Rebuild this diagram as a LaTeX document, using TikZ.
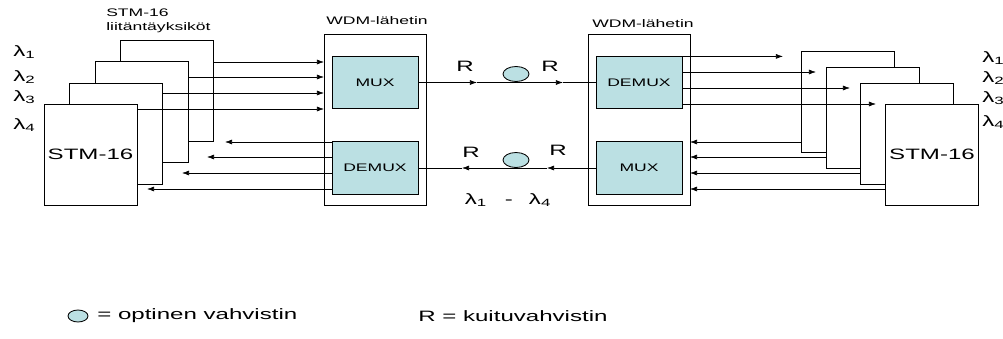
\documentclass[tikz,border=0pt]{standalone}
\usepackage{fontspec}
\setmainfont{Liberation Sans}[FakeStretch=1.6]
\usetikzlibrary{positioning, arrows.meta, shapes.geometric}
\definecolor{ampcyan}{RGB}{187,224,227}
\newcommand{\bigtxt}{\fontsize{10.7}{12.5}\selectfont}
\newcommand{\smalltxt}{\fontsize{7.8}{10}\selectfont}

\begin{document}
\begin{tikzpicture}[
    card/.style={draw, fill=white, line width=0.7pt, minimum width=2.325cm,
                 minimum height=2.525cm, inner sep=0pt, font=\bigtxt},
    wdm/.style={draw, line width=0.7pt, minimum width=2.55cm, minimum height=4.275cm},
    unit/.style={draw, fill=ampcyan, line width=0.7pt, minimum width=2.15cm,
                 minimum height=1.31cm, font=\smalltxt},
    amp/.style={draw, fill=ampcyan, ellipse, line width=0.6pt, minimum width=0.65cm,
                minimum height=0.375cm, inner sep=0pt},
    lam/.style={font=\bigtxt, anchor=west, inner sep=0pt},
    wire/.style={line width=0.45pt},
    >={Latex[length=5pt,width=3.5pt]},
]

\useasboundingbox (0,0) rectangle (25.075,8.45);
\clip (0,0) rectangle (25.075,8.45);

% =================================================================
%  WDM TRANSMITTERS
% =================================================================
\node[wdm]  (WDML)   at (9.375, 5.4625)  {};
\node[wdm]  (WDMR)   at (15.975, 5.4625) {};
\node[font=\smalltxt] (WDMLtxt) at (9.425, 7.925)  {WDM-lähetin};
\node[font=\smalltxt] (WDMRtxt) at (16.075, 7.85)  {WDM-lähetin};

\node[unit] (MUXL)   at (9.375, 6.3875)  {MUX};
\node[unit] (DEMUXL) at (9.375, 4.25)    {DEMUX};
\node[unit] (DEMUXR) at (15.975, 6.3875) {DEMUX};
\node[unit] (MUXR)   at (15.975, 4.25)   {MUX};

% =================================================================
%  STM-16 CARDS (back to front)
% =================================================================
\node[card] (L1) at (4.1625, 6.1875) {};
\node[card] (L2) at (3.5375, 5.65)   {};
\node[card] (L3) at (2.9, 5.1125)    {};
\node[card] (L4) at (2.2625, 4.5875) {STM-16};

\node[card] (R1) at (21.1875, 5.9125) {};
\node[card] (R2) at (21.8125, 5.5125) {};
\node[card] (R3) at (22.6625, 5.1125) {};
\node[card] (R4) at (23.3, 4.5875)    {STM-16};

\node[font=\smalltxt, anchor=west, align=left, inner sep=0pt] (cardtxt)
      at (2.65, 7.925) {STM-16\\liitäntäyksiköt};

% =================================================================
%  WAVELENGTHS
% =================================================================
\node[lam] (lamL1) at (0.325, 7.15)  {λ\textsubscript{1}};
\node[lam] (lamL2) at (0.325, 6.525) {λ\textsubscript{2}};
\node[lam] (lamL3) at (0.325, 6.025) {λ\textsubscript{3}};
\node[lam] (lamL4) at (0.325, 5.325) {λ\textsubscript{4}};

\node[lam] (lamR1) at (24.55, 7.0) {λ\textsubscript{1}};
\node[lam] (lamR2) at (24.55, 6.5) {λ\textsubscript{2}};
\node[lam] (lamR3) at (24.55, 6.0) {λ\textsubscript{3}};
\node[lam] (lamR4) at (24.55, 5.4) {λ\textsubscript{4}};

% =================================================================
%  TRIBUTARIES, left side
% =================================================================
\coordinate (iL1) at (8.1, 6.9);
\coordinate (iL2) at (8.1, 6.525);
\coordinate (iL3) at (8.1, 6.125);
\coordinate (iL4) at (8.1, 5.725);

\draw[wire, ->] (L1.east |- iL1) -- (iL1);
\draw[wire, ->] (L2.east |- iL2) -- (iL2);
\draw[wire, ->] (L3.east |- iL3) -- (iL3);
\draw[wire, ->] (L4.east |- iL4) -- (iL4);

\coordinate (oL1) at (5.625, 4.9);
\coordinate (oL2) at (5.175, 4.525);
\coordinate (oL3) at (4.55, 4.125);
\coordinate (oL4) at (3.675, 3.725);

\draw[wire, ->] (DEMUXL.west |- oL1) -- (oL1);
\draw[wire, ->] (DEMUXL.west |- oL2) -- (oL2);
\draw[wire, ->] (DEMUXL.west |- oL3) -- (oL3);
\draw[wire, ->] (DEMUXL.west |- oL4) -- (oL4);

% =================================================================
%  TRIBUTARIES, right side
% =================================================================
\coordinate (oR1) at (19.575, 7.04);
\coordinate (oR2) at (20.4, 6.65);
\coordinate (oR3) at (21.25, 6.25);
\coordinate (oR4) at (21.9, 5.85);

\draw[wire, ->] (DEMUXR.east |- oR1) -- (oR1);
\draw[wire, ->] (DEMUXR.east |- oR2) -- (oR2);
\draw[wire, ->] (DEMUXR.east |- oR3) -- (oR3);
\draw[wire, ->] (DEMUXR.east |- oR4) -- (oR4);

\coordinate (iR1) at (17.25, 4.9);
\coordinate (iR2) at (17.25, 4.525);
\coordinate (iR3) at (17.25, 4.125);
\coordinate (iR4) at (17.25, 3.725);

\draw[wire, ->] (R1.west |- iR1) -- (iR1);
\draw[wire, ->] (R2.west |- iR2) -- (iR2);
\draw[wire, ->] (R3.west |- iR3) -- (iR3);
\draw[wire, ->] (R4.west |- iR4) -- (iR4);

% =================================================================
%  FIBRE LINKS
% =================================================================
\coordinate (fA) at (11.925, 6.3875);
\coordinate (fB) at (14.075, 6.3875);
\draw[wire, ->] (MUXL.east) -- (fA);
\draw[wire, ->] (fA) -- (fB);
\draw[wire]     (fB) -- (DEMUXR.west);
\node[amp] (ampT) at (12.9, 6.6) {};

\coordinate (bA) at (13.675, 4.25);
\coordinate (bB) at (11.55, 4.25);
\draw[wire, ->] (MUXR.west) -- (bA);
\draw[wire, ->] (bA) -- (bB);
\draw[wire]     (bB) -- (DEMUXL.east);
\node[amp] (ampB) at (12.9, 4.45) {};

\node[font=\bigtxt] (RT1) at (11.625, 6.8) {R};
\node[font=\bigtxt] (RT2) at (13.75, 6.8)  {R};
\node[font=\bigtxt] (RB1) at (11.775, 4.65) {R};
\node[font=\bigtxt] (RB2) at (13.95, 4.7)   {R};

\node[font=\bigtxt] (range) at (12.7, 3.45)
      {λ\textsubscript{1}\hspace{0.45cm}-\hspace{0.4cm}λ\textsubscript{4}};

% =================================================================
%  LEGEND
% =================================================================
\node[amp, minimum width=0.5cm, minimum height=0.3cm] (legAmp) at (1.95, 0.55) {};
\node[lam] (legAmpTxt) at (2.425, 0.55) {= optinen vahvistin};
\node[lam] (legR)      at (10.45, 0.55) {R = kuituvahvistin};

\end{tikzpicture}
\end{document}
